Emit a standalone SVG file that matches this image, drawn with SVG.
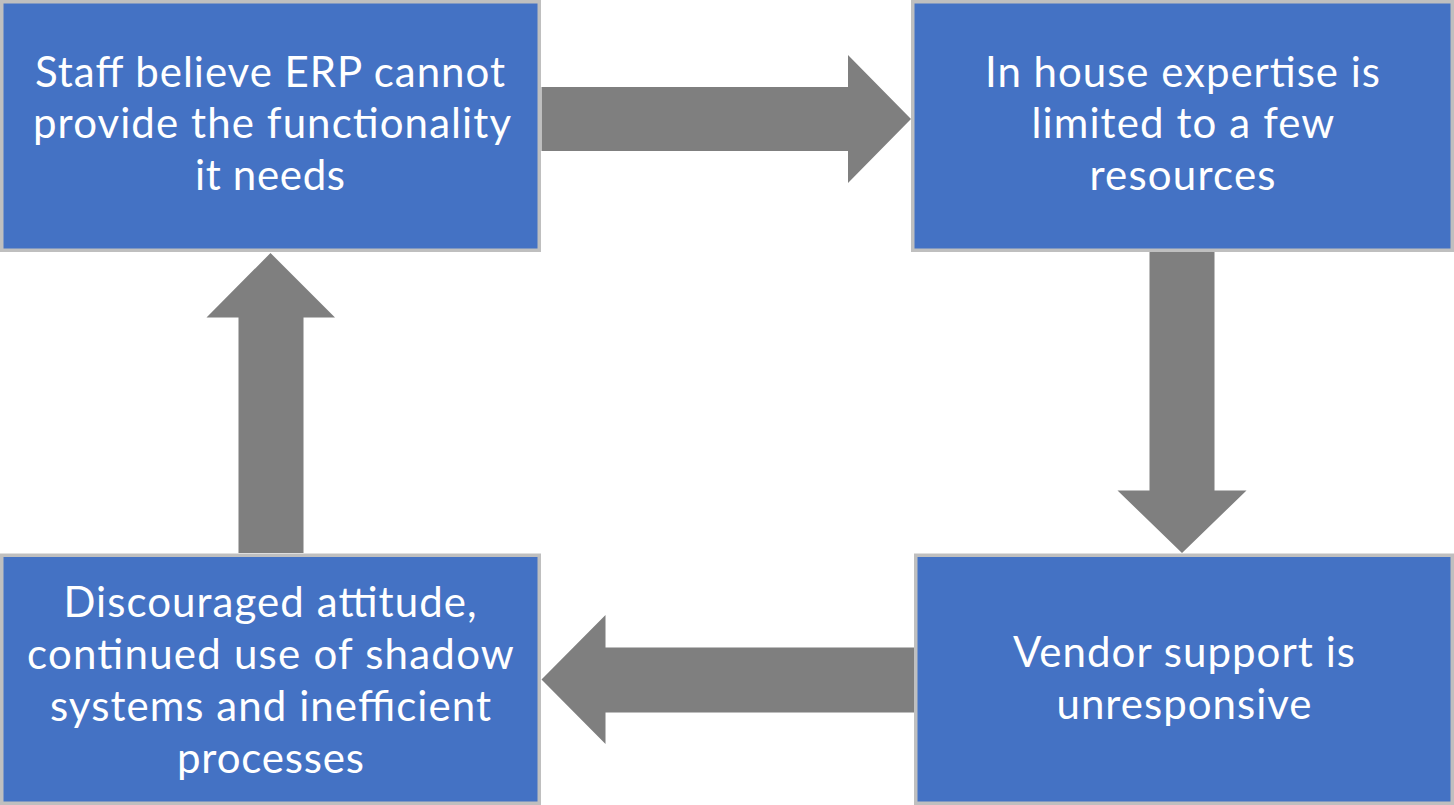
<svg xmlns="http://www.w3.org/2000/svg" width="1454" height="805" viewBox="0 0 1454 805">
  <style>
    .box { fill: #4472C4; stroke: #BFBFBF; stroke-width: 3.5; }
    .arrow { fill: #7F7F7F; }
    .label { fill: #FFFFFF; font-family: Lato, "Open Sans", "Liberation Sans", sans-serif; font-size: 42px; }
  </style>
  <rect x="0" y="0" width="1454" height="805" fill="#FFFFFF"/>
  <g id="connectors">
    <polygon class="arrow" points="541.5,87 848,87 848,55 911,119 848,183 848,151 541.5,151"/>
    <polygon class="arrow" points="1149.5,252 1214.5,252 1214.5,490.5 1246.5,490.5 1182,553 1117.5,490.5 1149.5,490.5"/>
    <polygon class="arrow" points="914,647.5 914,712.5 605.5,712.5 605.5,744 541.5,679.5 605.5,615 605.5,647.5"/>
    <polygon class="arrow" points="238.5,553 303.5,553 303.5,317.5 335,317.5 270.5,253 206.5,317.5 238.5,317.5"/>
  </g>
  <g id="node-staff">
    <rect class="box" x="1.75" y="1.75" width="537.5" height="248.5"/>
    <text class="label">
      <tspan x="35" y="86.5" textLength="470">Staff believe ERP cannot</tspan>
      <tspan x="33" y="138" textLength="477">provide the functionality</tspan>
      <tspan x="195" y="189.5" textLength="150">it needs</tspan>
    </text>
  </g>
  <g id="node-expertise">
    <rect class="box" x="912.75" y="1.75" width="539.5" height="248.5"/>
    <text class="label">
      <tspan x="985" y="86.5" textLength="395">In house expertise is</tspan>
      <tspan x="1031.5" y="138" textLength="302">limited to a few</tspan>
      <tspan x="1089.5" y="189.5" textLength="186">resources</tspan>
    </text>
  </g>
  <g id="node-vendor">
    <rect class="box" x="915.75" y="555.25" width="536.5" height="248"/>
    <text class="label">
      <tspan x="1013" y="667" textLength="342">Vendor support is</tspan>
      <tspan x="1056.5" y="718.5" textLength="255">unresponsive</tspan>
    </text>
  </g>
  <g id="node-discouraged">
    <rect class="box" x="1.75" y="555.25" width="537.5" height="248"/>
    <text class="label">
      <tspan x="63.5" y="616.5" textLength="413">Discouraged attitude,</tspan>
      <tspan x="27" y="668.5" textLength="486">continued use of shadow</tspan>
      <tspan x="50" y="720.5" textLength="441">systems and inefficient</tspan>
      <tspan x="177" y="772.5" textLength="187">processes</tspan>
    </text>
  </g>
</svg>
